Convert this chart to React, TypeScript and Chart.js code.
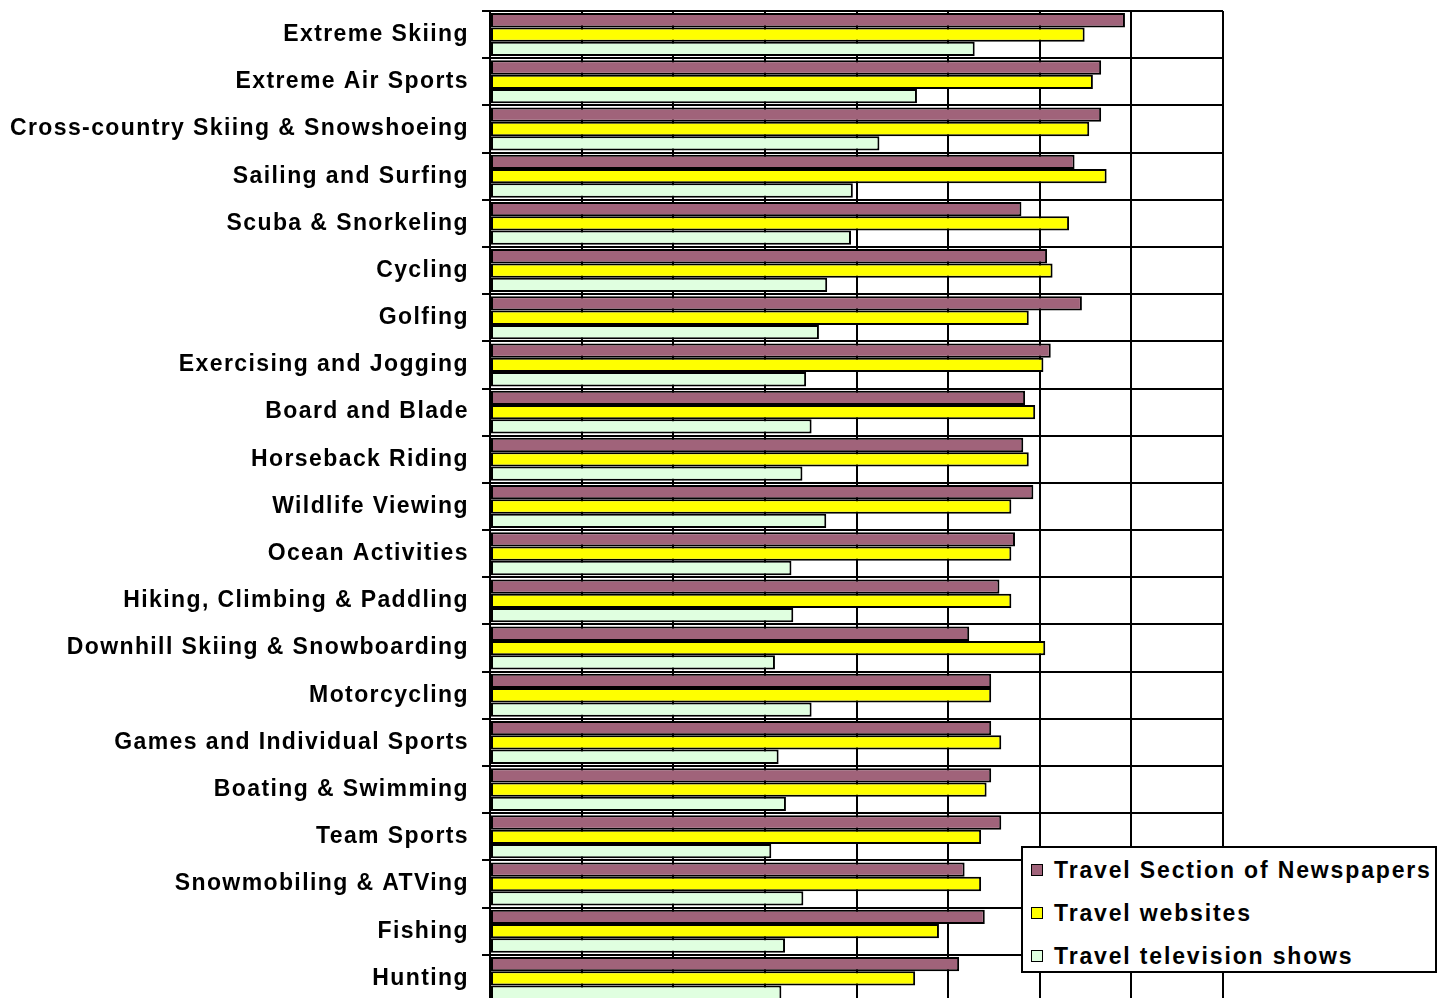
import React, { useEffect, useRef } from "react";
import { Chart, registerables } from "chart.js";

Chart.register(...registerables);

const categories: string[] = [
  "Extreme Skiing",
  "Extreme Air Sports",
  "Cross-country Skiing & Snowshoeing",
  "Sailing and Surfing",
  "Scuba & Snorkeling",
  "Cycling",
  "Golfing",
  "Exercising and Jogging",
  "Board and Blade",
  "Horseback Riding",
  "Wildlife Viewing",
  "Ocean Activities",
  "Hiking, Climbing & Paddling",
  "Downhill Skiing & Snowboarding",
  "Motorcycling",
  "Games and Individual Sports",
  "Boating & Swimming",
  "Team Sports",
  "Snowmobiling & ATVing",
  "Fishing",
  "Hunting",
];

const newspapers: number[] = [
  69.3, 66.7, 66.7, 63.8, 58.0, 60.8, 64.6, 61.2, 58.4, 58.2, 59.3,
  57.3, 55.6, 52.3, 54.7, 54.7, 54.7, 55.8, 51.8, 54.0, 51.2,
];
const websites: number[] = [
  64.9, 65.8, 65.4, 67.3, 63.2, 61.4, 58.8, 60.4, 59.5, 58.8, 56.9,
  56.9, 56.9, 60.6, 54.7, 55.8, 54.2, 53.6, 53.6, 49.0, 46.4,
];
const television: number[] = [
  52.9, 46.6, 42.5, 39.6, 39.4, 36.8, 35.9, 34.5, 35.1, 34.1, 36.7,
  32.9, 33.1, 31.1, 35.1, 31.5, 32.3, 30.7, 34.2, 32.2, 31.8,
];

const seriesNames: string[] = [
  "Travel Section of Newspapers",
  "Travel websites",
  "Travel television shows",
];
const seriesColors: string[] = ["#A0637A", "#FFFF00", "#E0FFE0"];

const axisMin = 0;
const axisMax = 80;
const axisStep = 10;

const FONT = "'Liberation Sans', Arial, sans-serif";

const letterSpacingPlugin = {
  id: "letterSpacing",
  beforeDraw(chart: any) {
    chart.ctx.letterSpacing = "1.4px";
  },
  afterDraw(chart: any) {
    chart.ctx.letterSpacing = "0px";
  },
};

export default function App() {
  const canvasRef = useRef<HTMLCanvasElement | null>(null);

  useEffect(() => {
    const canvas = canvasRef.current;
    if (!canvas) return;
    const seriesValues = [newspapers, websites, television];
    const chart = new Chart(canvas, {
      type: "bar",
      data: {
        labels: categories,
        datasets: seriesNames.map((name, i) => ({
          label: name,
          data: seriesValues[i],
          backgroundColor: seriesColors[i],
          borderColor: "#000000",
          borderWidth: 2,
          borderSkipped: false,
          categoryPercentage: 0.91,
          barPercentage: 1.0,
        })),
      },
      options: {
        indexAxis: "y",
        responsive: false,
        animation: false,
        devicePixelRatio: 1,
        layout: { padding: { left: 0, top: 11, right: 220, bottom: 38 } },
        plugins: {
          legend: { display: false },
          tooltip: { enabled: false },
          title: { display: false },
        },
        scales: {
          x: {
            min: axisMin,
            max: axisMax,
            ticks: { display: false, stepSize: axisStep },
            grid: { color: "#000000", lineWidth: 2, drawTicks: false },
            border: { display: false },
            afterFit: (scale: any) => {
              scale.height = 0;
              scale.paddingLeft = 0;
              scale.paddingRight = 0;
            },
          },
          y: {
            ticks: {
              color: "#000000",
              font: { family: FONT, size: 23, weight: "bold" },
              padding: 13,
              autoSkip: false,
            },
            grid: {
              color: "#000000",
              lineWidth: 2,
              tickLength: 8,
              offset: true,
            },
            border: { display: true, color: "#000000", width: 2 },
            afterFit: (scale: any) => {
              scale.width = 490;
              scale.paddingTop = 0;
              scale.paddingBottom = 0;
            },
          },
        },
      },
      plugins: [letterSpacingPlugin],
    });
    return () => chart.destroy();
  }, []);

  const rowTop = [22, 65, 108];

  return (
    <div
      style={{
        position: "absolute",
        left: 0,
        top: 0,
        width: 1443,
        height: 998,
        overflow: "hidden",
        background: "#ffffff",
      }}
    >
      <canvas ref={canvasRef} width={1443} height={1040} style={{ display: "block" }} />
      <div
        style={{
          position: "absolute",
          left: 1021,
          top: 846,
          width: 412,
          height: 123,
          border: "2px solid #000",
          background: "#fff",
          fontFamily: FONT,
          fontWeight: "bold",
          fontSize: 23,
          color: "#000",
        }}
      >
        {seriesNames.map((name, i) => (
          <div
            key={name}
            style={{
              position: "absolute",
              left: 8,
              top: rowTop[i] - 14,
              height: 28,
              display: "flex",
              alignItems: "center",
              whiteSpace: "nowrap",
            }}
          >
            <span
              style={{
                display: "inline-block",
                width: 10,
                height: 10,
                border: "1.5px solid #000",
                background: seriesColors[i],
                marginRight: 11,
              }}
            />
            <span style={{ letterSpacing: "1.85px" }}>{name}</span>
          </div>
        ))}
      </div>
    </div>
  );
}
